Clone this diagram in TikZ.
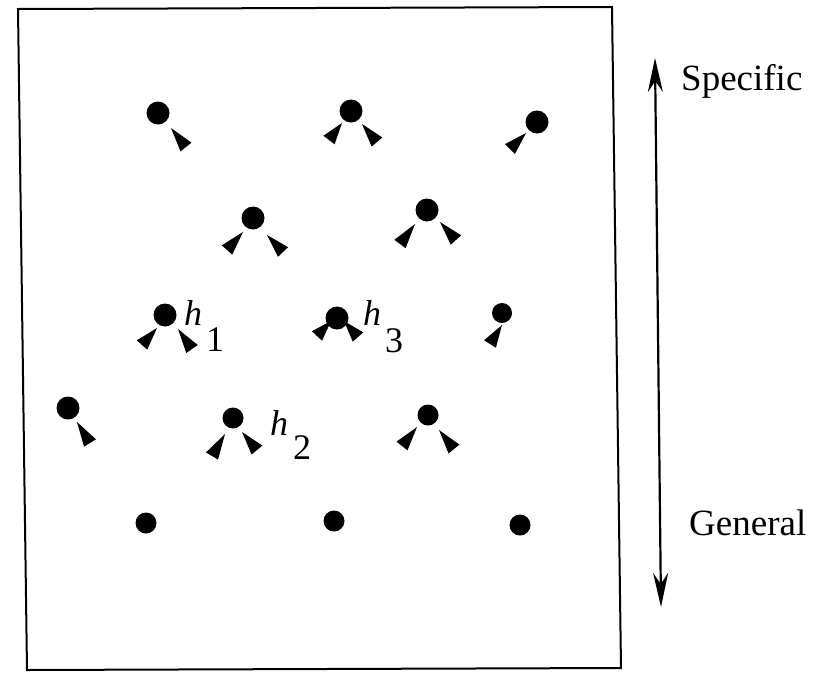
\documentclass[tikz,border=0pt]{standalone}
\usepackage{fontspec}
\setmainfont{Liberation Serif}
\usetikzlibrary{calc,arrows.meta}
\newcommand\wdg[2]{\fill ($(#2)!7pt!90:(#1)$) -- (#1) -- ($(#2)!7pt!-90:(#1)$) -- cycle;}
\tikzset{
  dot/.style={circle,fill=black,inner sep=0pt,minimum size=#1},
  dot/.default=23pt,
  lbl/.style={font=\fontsize{37}{40}\selectfont,inner sep=0pt},
  hl/.style={font=\fontsize{36}{40}\selectfont\itshape,inner sep=0pt},
  sub/.style={font=\fontsize{36}{40}\selectfont,inner sep=0pt}
}
\begin{document}
\begin{tikzpicture}[x=1pt,y=-1pt]
\useasboundingbox (0,0) rectangle (825,681);
% frame
\draw[line width=2pt] (18,9) -- (612,7) -- (621,668) -- (27,670) -- cycle;
% dots
\node[dot] (d1) at (158,113) {};
\node[dot] (d2) at (351,111) {};
\node[dot] (d3) at (537,122) {};
\node[dot] (d4) at (253,218) {};
\node[dot] (d5) at (427,210) {};
\node[dot] (d6) at (165,315) {};
\node[dot] (d7) at (337,318) {};
\node[dot=20pt] (d8) at (502,313) {};
\node[dot] (d9) at (68,408) {};
\node[dot=21pt] (d10) at (233,418) {};
\node[dot=21pt] (d11) at (428,415) {};
\node[dot=21pt] (d12) at (146,523) {};
\node[dot=21pt] (d13) at (334,521) {};
\node[dot=21pt] (d14) at (520,525) {};
% wedges
\wdg{171,128}{186,147}
\wdg{342,123}{329,140}
\wdg{362,124}{377,142}
\wdg{526,133}{510,149}
\wdg{243,232}{227,250}
\wdg{267,235}{283,252}
\wdg{415,224}{400,244}
\wdg{440,222}{456,240}
\wdg{157,328}{142,345}
\wdg{178,329}{192,349}
\wdg{331,321}{317,336}
\wdg{344,321}{358,337}
\wdg{502,325}{490,344}
\wdg{77,422}{90,443}
\wdg{225,434}{212,456}
\wdg{242,432}{257,450}
\wdg{417,427}{402,446}
\wdg{439,430}{454,449}
% labels
\node[hl] (h1) at (193,313) {h};
\node[sub] (s1) at (215,340) {1};
\node[hl] (h3) at (372,313) {h};
\node[sub] (s3) at (394,341) {3};
\node[hl] (h2) at (279,423) {h};
\node[sub] (s2) at (302,448) {2};
% scale arrow
\coordinate (at) at (655,58);
\coordinate (ab) at (661,607);
\draw[line width=2.2pt,{Stealth[length=34pt,width=15pt]}-{Stealth[length=34pt,width=15pt]}] (at) -- (ab);
\node[lbl,anchor=west] (sp) at (681,81) {Specific};
\node[lbl,anchor=west] (ge) at (689,523) {General};
\end{tikzpicture}
\end{document}
